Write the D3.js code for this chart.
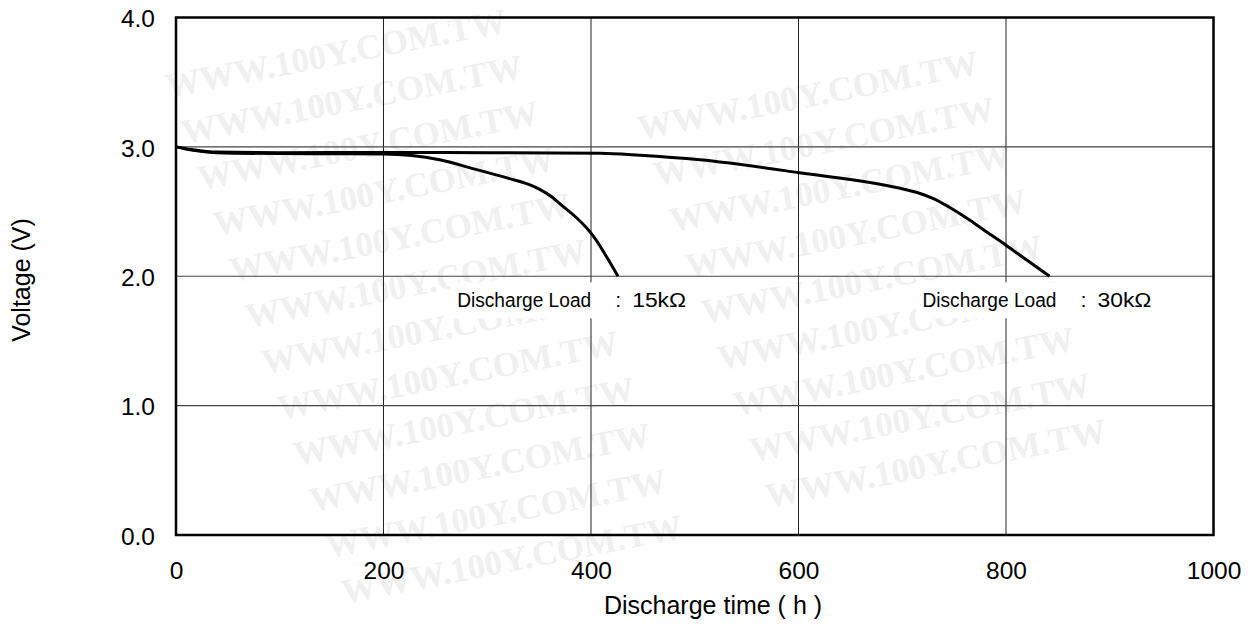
<!DOCTYPE html>
<html>
<head>
<meta charset="utf-8">
<script src="https://cdn.jsdelivr.net/npm/d3@7"></script>
<style>
  html, body { margin: 0; padding: 0; background: #fff; }
  svg { display: block; font-family: "Liberation Sans", Arial, sans-serif; }
</style>
</head>
<body>
<div id="chart"></div>
<script>
// ── Data ────────────────────────────────────────────────────────────────────
const xTicks = [0, 200, 400, 600, 800, 1000];
const yTicks = [0, 1, 2, 3, 4];

const load15Time    = [0, 15, 39, 100, 200, 254, 287, 319, 340, 351, 362, 373, 385, 395, 405, 415, 426];
const load15Voltage = [3.0, 2.975, 2.955, 2.948, 2.945, 2.90, 2.83, 2.76, 2.71, 2.67, 2.615, 2.54, 2.46, 2.38, 2.28, 2.15, 2.00];

const load30Time    = [0, 15, 39, 100, 200, 300, 409, 447, 505, 601, 698, 715, 730, 745, 762, 780, 800, 820, 842];
const load30Voltage = [3.0, 2.98, 2.96, 2.955, 2.957, 2.955, 2.95, 2.935, 2.90, 2.80, 2.68, 2.645, 2.60, 2.535, 2.45, 2.35, 2.24, 2.125, 2.00];

const seriesNames = ["Discharge Load", "Discharge Load"];
const seriesLoads = ["15kΩ", "30kΩ"];
const labelTime    = [271, 719.5];
const labelVoltage = [1.76, 1.76];

// ── Layout ──────────────────────────────────────────────────────────────────
const width = 1255, height = 628;
const plot = { left: 176, right: 1213.5, top: 17.5, bottom: 535 };

const svg = d3.select("#chart").append("svg").attr("width", width).attr("height", height);

const x = d3.scaleLinear().domain([0, 1000]).range([plot.left, plot.right]);
const y = d3.scaleLinear().domain([0, 4]).range([plot.bottom, plot.top]);

// ── Watermark (faint, only whole copies kept) ───────────────────────────────
const wmLayer = svg.append("g").attr("class", "watermark");
const stacks = [
  { x0: 152, y0: 52, from: -1, to: 12 },
  { x0: 608, y0: 48, from: -1, to: 10 },
  { x0: 1064, y0: 40, from: -1, to: 8 }
];
stacks.forEach(s => {
  for (let k = s.from; k <= s.to; k++) {
    const px = s.x0 + 16 * k, py = s.y0 + 46 * k;
    const t = wmLayer.append("text")
      .attr("transform", `translate(${px},${py}) rotate(-11)`)
      .attr("font-family", "'Liberation Serif', 'Times New Roman', serif")
      .attr("font-weight", "bold")
      .attr("font-size", 35)
      .attr("fill", "#f0f0f0")
      .text("WWW.100Y.COM.TW");
    const b = t.node().getBoundingClientRect();
    if (b.left < 0 || b.top < 0 || b.right > width || b.bottom > height) t.remove();
  }
});

// ── Grid ────────────────────────────────────────────────────────────────────
const grid = svg.append("g").attr("class", "grid");
grid.selectAll("line.v")
  .data(xTicks.slice(1, -1)).join("line")
  .attr("class", "v")
  .attr("x1", d => x(d)).attr("x2", d => x(d))
  .attr("y1", plot.top).attr("y2", plot.bottom)
  .attr("stroke", "#222").attr("stroke-width", 1);

grid.selectAll("line.h")
  .data(yTicks.slice(1, -1)).join("line")
  .attr("class", "h")
  .attr("x1", plot.left).attr("x2", plot.right)
  .attr("y1", d => y(d)).attr("y2", d => y(d))
  .attr("stroke", "#444").attr("stroke-width", 1.2);

// ── Curves ──────────────────────────────────────────────────────────────────
const line = d3.line()
  .x(d => x(d[0])).y(d => y(d[1]))
  .curve(d3.curveMonotoneX);

const series = [
  d3.zip(load15Time, load15Voltage),
  d3.zip(load30Time, load30Voltage)
];

svg.append("g").attr("class", "curves")
  .selectAll("path")
  .data(series).join("path")
  .attr("d", line)
  .attr("fill", "none")
  .attr("stroke", "#000")
  .attr("stroke-width", 3)
  .attr("stroke-linecap", "butt")
  .attr("stroke-linejoin", "round");

// ── Annotations ─────────────────────────────────────────────────────────────
const notes = svg.append("g").attr("class", "notes");
seriesNames.forEach((name, i) => {
  const ax = x(labelTime[i]), ay = y(labelVoltage[i]);
  const g = notes.append("g").attr("transform", `translate(${ax},${ay})`);
  g.append("rect")
    .attr("x", -6).attr("y", -25)
    .attr("width", 240).attr("height", 36)
    .attr("fill", "#fff");
  g.append("text").attr("x", 0).attr("font-size", 20).attr("fill", "#000")
    .attr("textLength", 134).attr("lengthAdjust", "spacingAndGlyphs")
    .text(name);
  g.append("text").attr("x", 161).attr("text-anchor", "middle").attr("font-size", 20).attr("fill", "#000")
    .text(":");
  g.append("text").attr("x", 175).attr("font-size", 20).attr("fill", "#000")
    .attr("textLength", 54).attr("lengthAdjust", "spacingAndGlyphs")
    .text(seriesLoads[i]);
});

// ── Frame ───────────────────────────────────────────────────────────────────
svg.append("rect")
  .attr("x", plot.left).attr("y", plot.top)
  .attr("width", plot.right - plot.left).attr("height", plot.bottom - plot.top)
  .attr("fill", "none").attr("stroke", "#000").attr("stroke-width", 2.5);

// ── Axes ────────────────────────────────────────────────────────────────────
const xAxis = svg.append("g")
  .attr("transform", `translate(0,${plot.bottom})`)
  .call(d3.axisBottom(x).tickValues(xTicks).tickSize(0).tickPadding(27).tickFormat(d3.format("d")));
const yAxis = svg.append("g")
  .attr("transform", `translate(${plot.left},0)`)
  .call(d3.axisLeft(y).tickValues(yTicks).tickSize(0).tickPadding(21).tickFormat(d3.format(".1f")));

[xAxis, yAxis].forEach(a => {
  a.select(".domain").remove();
  a.selectAll("text")
    .attr("font-family", "'Liberation Sans', Arial, sans-serif")
    .attr("font-size", 24.5)
    .attr("fill", "#000");
});
yAxis.selectAll("text").attr("dy", "0.38em");

svg.append("text")
  .attr("x", 713).attr("y", 614)
  .attr("text-anchor", "middle")
  .attr("font-size", 25).attr("fill", "#000")
  .text("Discharge time ( h )");

svg.append("text")
  .attr("transform", "translate(30,280) rotate(-90)")
  .attr("text-anchor", "middle")
  .attr("font-size", 25).attr("fill", "#000")
  .text("Voltage (V)");
</script>
</body>
</html>
